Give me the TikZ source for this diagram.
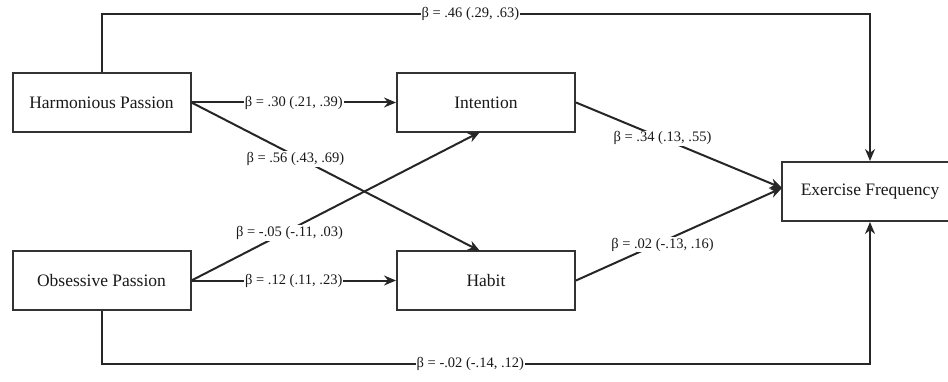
\documentclass[tikz,border=0pt]{standalone}
\usepackage{fontspec}
\setmainfont{Liberation Serif}
\usetikzlibrary{arrows.meta}
\begin{document}
\begin{tikzpicture}[x=1pt,y=-1pt,
  box/.style={draw=black!80, line width=2pt, minimum width=178pt, minimum height=59pt, inner sep=0pt, fill=white, text=black!90, font=\fontsize{17.5}{20}\selectfont},
  conn/.style={draw=black!85, line width=2pt, -{Stealth[length=12pt,width=10pt]}},
  lab/.style={fill=white, inner sep=1pt, text=black!90, font=\fontsize{14.5}{16}\selectfont}]
\useasboundingbox (0,0) rectangle (948,382);
\node[box] (hp) at (101.5,102.5) {Harmonious Passion};
\node[box] (op) at (101.5,280.5) {Obsessive Passion};
\node[box] (in) at (486,102.5) {Intention};
\node[box] (hb) at (486,280.5) {Habit};
\node[box, minimum width=176pt] (ef) at (870,191.5) {Exercise Frequency};
\coordinate (t1) at (101.5,14);
\coordinate (t2) at (870,14);
\coordinate (b1) at (101.5,364);
\coordinate (b2) at (870,364);
\coordinate (hbt) at (480,251);
\coordinate (inb) at (480,132);
\coordinate (efl) at (782,188);
\draw[conn] (hp.east) -- node[lab]{β = .30 (.21, .39)} (in.west);
\draw[conn] (op.east) -- node[lab]{β = .12 (.11, .23)} (hb.west);
\draw[conn] (hp.east) -- node[lab, pos=0.36, yshift=-3pt]{β = .56 (.43, .69)} (hbt);
\draw[conn] (op.east) -- node[lab, pos=0.34, yshift=-3pt]{β = -.05 (-.11, .03)} (inb);
\draw[conn] (in.east) -- node[lab, pos=0.42]{β = .34 (.13, .55)} (efl);
\draw[conn] (hb.east) -- node[lab, pos=0.42, yshift=-3pt]{β = .02 (-.13, .16)} (efl);
\draw[conn] (hp.north) -- (t1) -- node[lab, pos=0.48]{β = .46 (.29, .63)} (t2) -- (ef.north);
\draw[conn] (op.south) -- (b1) -- node[lab, pos=0.48]{β = -.02 (-.14, .12)} (b2) -- (ef.south);
\end{tikzpicture}
\end{document}
